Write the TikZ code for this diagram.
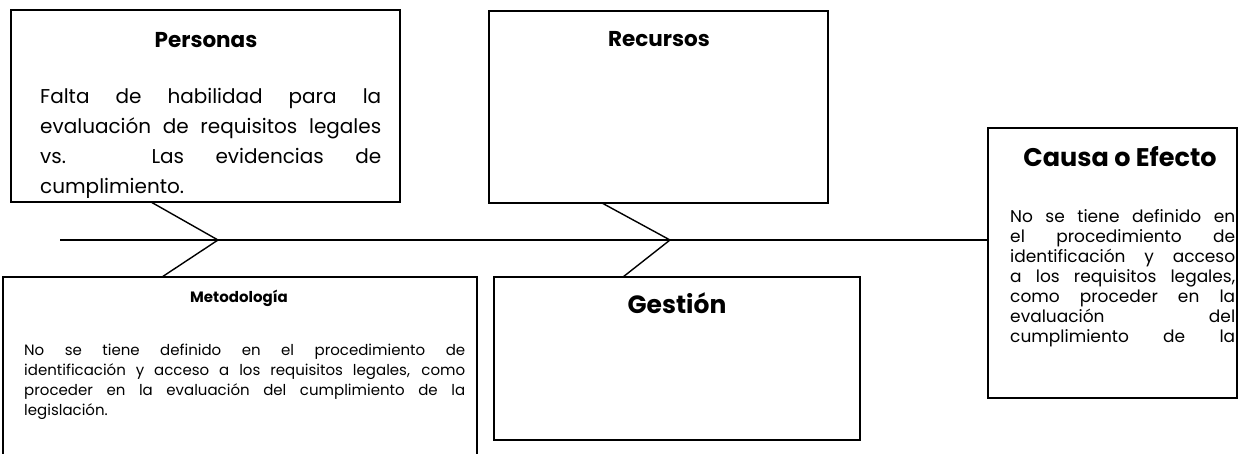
\documentclass[tikz,border=0pt]{standalone}
\usepackage{fontspec}
\setmainfont{Poppins}
\newcommand\myfs[2]{\fontsize{#1}{#2}\selectfont}
\begin{document}
\begin{tikzpicture}[x=1pt,y=-1pt,
  boxst/.style={draw,line width=1.4pt,inner sep=0pt,outer sep=0pt,anchor=north west},
  bone/.style={line width=1.4pt},
  ttl/.style={anchor=base,inner sep=0pt,font=\bfseries},
  body/.style={anchor=base west,inner sep=0pt,align=justify}]
\clip (0,0) rectangle (1239,453);
\fill[white] (0,0) rectangle (1239,453);
% boxes
\node[boxst,minimum width=389pt,minimum height=192pt] (P) at (11,10) {};
\node[boxst,minimum width=339pt,minimum height=192pt] (R) at (489,11) {};
\node[boxst,minimum width=249pt,minimum height=270pt] (C) at (988,128) {};
\node[boxst,minimum width=474pt,minimum height=200pt] (M) at (3,277) {};
\node[boxst,minimum width=366pt,minimum height=163pt] (G) at (494,277) {};
% spine and bones
\coordinate (s0) at (60,240);
\coordinate (v1) at (218,240);
\coordinate (v2) at (670,240);
\coordinate (p1) at (151,202);
\coordinate (m1) at (162,277);
\coordinate (r1) at (602,203);
\coordinate (g1) at (623,277);
\draw[bone] (s0) -- (s0 -| C.west);
\draw[bone] (p1) -- (v1) -- (m1);
\draw[bone] (r1) -- (v2) -- (g1);
% titles
\node[ttl,font=\bfseries\myfs{21.5}{24}] (Pt) at (206,47) {Personas};
\node[ttl,font=\bfseries\myfs{21.5}{24}] (Rt) at (659,46) {Recursos};
\node[ttl,font=\bfseries\myfs{25.5}{28}] (Ct) at (1120,166) {Causa o Efecto};
\node[ttl,font=\bfseries\myfs{15}{18}] (Mt) at (239,302) {Metodología};
\node[ttl,font=\bfseries\myfs{25}{28}] (Gt) at (677,313) {Gestión};
% body texts
\begin{scope}
\clip (11,10) rectangle (400,197);
\node[body,text width=341pt,font=\myfs{20}{30}] (Pb) at (40,103)
  {Falta de habilidad para la\linebreak evaluación de requisitos legales\linebreak vs. Las evidencias de\linebreak cumplimiento.};
\end{scope}
\node[body,text width=225pt,font=\myfs{17}{20}] (Cb) at (1010,222)
  {No se tiene definido en\linebreak el procedimiento de\linebreak identificación y acceso\linebreak a los requisitos legales,\linebreak como proceder en la\linebreak evaluación del\linebreak cumplimiento de la\linebreak\mbox{}};
\node[body,text width=441pt,font=\myfs{15}{20}] (Mb) at (24,355)
  {No se tiene definido en el procedimiento de\linebreak identificación y acceso a los requisitos legales, como\linebreak proceder en la evaluación del cumplimiento de la\linebreak legislación.};
\end{tikzpicture}
\end{document}
